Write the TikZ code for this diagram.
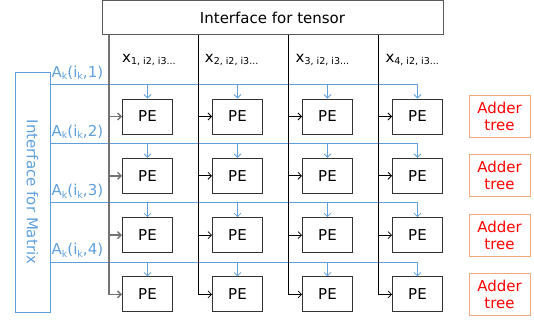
\documentclass[tikz,border=0pt]{standalone}
\usepackage{fontspec}
\setmainfont{DejaVu Sans}
\usetikzlibrary{arrows.meta}
\definecolor{MatrixColor}{RGB}{95,160,220}
\definecolor{AdderColor}{RGB}{244,170,125}
\definecolor{AdderText}{RGB}{255,0,0}
\newcommand{\lowsub}[1]{\raisebox{-2.5pt}{\fontsize{9.5}{10}\selectfont #1}}
\tikzstyle{pe} = [rectangle, draw=black!80, line width=0.9pt, minimum width=50pt, minimum height=35pt, inner sep=0pt, font=\fontsize{15}{17}\selectfont]
\tikzstyle{adder} = [rectangle, draw=AdderColor, line width=0.9pt, minimum width=61pt, minimum height=42pt, inner sep=0pt, align=center, text=AdderText, font=\fontsize{15}{17}\selectfont]
\tikzstyle{bus} = [line width=0.8pt, -{Straight Barb[length=3.5pt,width=7pt]}]
\tikzstyle{feed} = [MatrixColor, line width=0.8pt, -{Straight Barb[length=3.5pt,width=7pt]}]
\tikzstyle{label} = [inner sep=0pt, font=\fontsize{15}{17}\selectfont]

\begin{document}
\begin{tikzpicture}[x=1pt, y=-1pt]
    \useasboundingbox (0,0) rectangle (534,322);

    % Interface for tensor
    \node[rectangle, draw=black!65, line width=0.9pt, minimum width=341pt, minimum height=34pt, label] (tensor) at (272.5,17.5) {Interface for tensor};

    % Interface for Matrix
    \node[rectangle, draw=MatrixColor, line width=0.9pt, minimum width=35pt, minimum height=240pt, text=MatrixColor, label] (matrix) at (32.5,192) {};
    \node[rotate=-90, text=MatrixColor, label] (matrixtext) at (matrix.center) {Interface for Matrix};

    % PE array and adder trees
    \foreach \r/\cy in {1/116.5, 2/175.8, 3/235.1, 4/294.4} {
        \foreach \c/\cx in {1/147.5, 2/237.5, 3/327.5, 4/417.5}
            \node[pe] (pe-\r-\c) at (\cx,\cy) {PE};
        \node[adder] (adder-\r) at (499.5,\cy) {Adder\\tree};
    }

    % Matrix rows
    \foreach \r/\ly in {1/84, 2/143.3, 3/202.6, 4/261.9} {
        \coordinate (mat-\r) at (50,\ly);
        \node[anchor=base west, text=MatrixColor, label] (a-\r) at (51.5,\ly-7) {A\lowsub{k}(i\lowsub{k},\r)};
        \draw[feed] (mat-\r) -| (pe-\r-4.north);
        \foreach \c in {1,2,3}
            \draw[feed] (pe-\r-\c.north |- mat-\r) -- (pe-\r-\c.north);
    }

    % Tensor columns
    \foreach \c/\bx/\tx/\bcol/\bw in {1/109/122/black!55/1.4pt, 2/198.5/204.7/black/0.8pt, 3/288.5/295.5/black/0.8pt, 4/378.5/385.3/black/0.8pt} {
        \coordinate (bus-\c) at (\bx,34.5);
        \node[anchor=base west, label] (x-\c) at (\tx,62) {x\lowsub{\c, i2, i3...}};
        \draw[bus, \bcol, line width=\bw] (bus-\c) |- (pe-4-\c.west);
        \foreach \r in {1,2,3}
            \draw[bus, \bcol, line width=\bw] (bus-\c |- pe-\r-\c.west) -- (pe-\r-\c.west);
    }
\end{tikzpicture}
\end{document}
